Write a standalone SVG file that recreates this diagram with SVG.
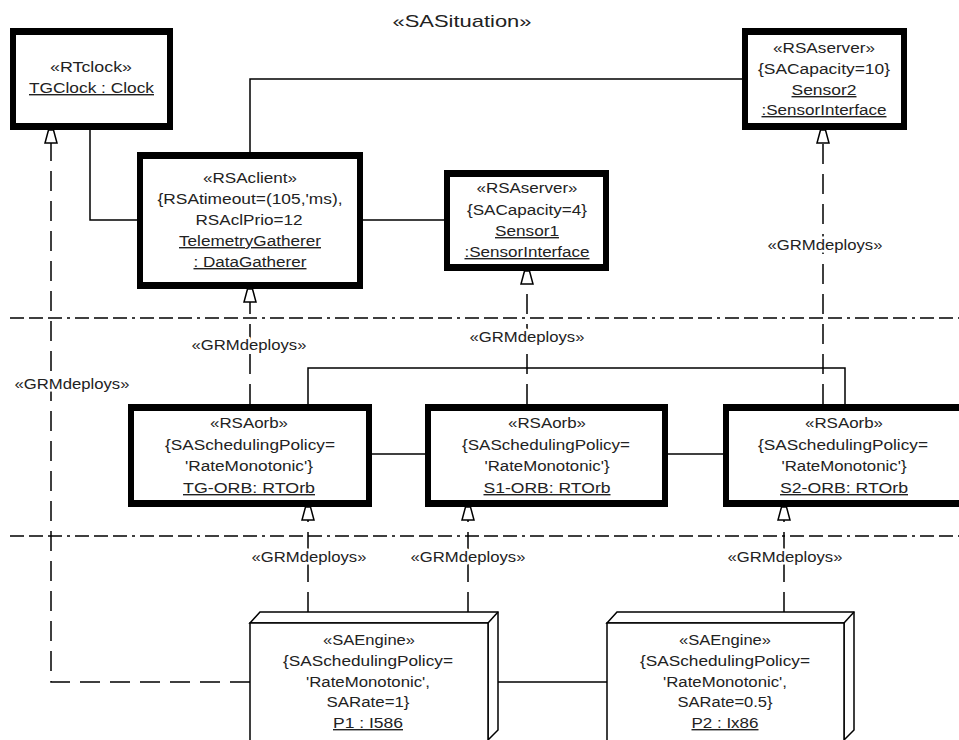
<svg xmlns="http://www.w3.org/2000/svg" width="959" height="740" viewBox="0 0 959 740">
<style>
  text { font-family: "Liberation Sans", Arial, sans-serif; font-size: 14px; fill: #222; text-anchor: middle; }
  .title { font-size: 17px; }
  .u { text-decoration: underline; }
  .lbl { stroke: #fff; stroke-width: 5px; paint-order: stroke; stroke-linejoin: round; }
  .outer { fill: #000; }
  .inner { fill: #fff; }
  .line { fill: none; stroke: #000; stroke-width: 1.5; }
  .dep { fill: none; stroke: #000; stroke-width: 1.5; stroke-dasharray: 20 10; marker-end: url(#tri); }
  .sep { fill: none; stroke: #000; stroke-width: 1.5; stroke-dasharray: 14 5 14 5 14 5 3 5; }
  .node3d { fill: #fff; stroke: #000; stroke-width: 1.5; stroke-linejoin: miter; }
</style>
<defs>
  <marker id="tri" markerUnits="userSpaceOnUse" viewBox="-15 -8 17 16" refX="0" refY="0" markerWidth="17" markerHeight="16" orient="auto">
    <path d="M0,-2.5 L0,2.5 L-13,6 L-13,-6 Z" fill="#fff" stroke="#000" stroke-width="1.5" stroke-dasharray="none"/>
  </marker>
</defs>
<rect width="959" height="740" fill="#fff"/>

<text class="title" x="462" y="27" textLength="139" lengthAdjust="spacingAndGlyphs">«SASituation»</text>

<g id="separators">
  <path class="sep" d="M10,318 H959"/>
  <path class="sep" d="M10,536 H959"/>
</g>

<g id="connectors">
  <path class="line" d="M90,130 V220 H137"/>
  <path class="line" d="M250,152 V79 H742"/>
  <path class="line" d="M363,220 H444"/>
  <path class="line" d="M372,454 H425"/>
  <path class="line" d="M668,454 H723"/>
  <path class="line" d="M308,404 V368 H845 V404"/>
  <path class="line" d="M488,682 H607"/>
  <path class="dep" d="M250,682 H51 V130"/>
  <path class="dep" d="M250,404 V289"/>
  <path class="dep" d="M527,404 V271"/>
  <path class="dep" d="M823,404 V130"/>
  <path class="dep" d="M308,612 V507"/>
  <path class="dep" d="M468,612 V507"/>
  <path class="dep" d="M784,612 V507"/>
  <text class="lbl" x="825" y="250" textLength="115" lengthAdjust="spacingAndGlyphs">«GRMdeploys»</text>
  <text class="lbl" x="249" y="350" textLength="115" lengthAdjust="spacingAndGlyphs">«GRMdeploys»</text>
  <text class="lbl" x="527" y="342" textLength="115" lengthAdjust="spacingAndGlyphs">«GRMdeploys»</text>
  <text class="lbl" x="72" y="389" textLength="115" lengthAdjust="spacingAndGlyphs">«GRMdeploys»</text>
  <text class="lbl" x="309" y="562" textLength="115" lengthAdjust="spacingAndGlyphs">«GRMdeploys»</text>
  <text class="lbl" x="468" y="562" textLength="115" lengthAdjust="spacingAndGlyphs">«GRMdeploys»</text>
  <text class="lbl" x="785" y="562" textLength="115" lengthAdjust="spacingAndGlyphs">«GRMdeploys»</text>
</g>

<g id="TGClock">
  <rect class="outer" x="10" y="28" width="163" height="102"/>
  <rect class="inner" x="16" y="35" width="151" height="88"/>
  <text x="91" y="72" textLength="82" lengthAdjust="spacingAndGlyphs">«RTclock»</text>
  <text class="u" x="91.5" y="93" textLength="125" lengthAdjust="spacingAndGlyphs">TGClock : Clock</text>
</g>

<g id="TelemetryGatherer">
  <rect class="outer" x="137" y="152" width="226" height="137"/>
  <rect class="inner" x="143" y="159" width="214" height="123"/>
  <text x="250" y="183" textLength="94" lengthAdjust="spacingAndGlyphs">«RSAclient»</text>
  <text x="250" y="204" textLength="185" lengthAdjust="spacingAndGlyphs">{RSAtimeout=(105,'ms),</text>
  <text x="249" y="225" textLength="107" lengthAdjust="spacingAndGlyphs">RSAclPrio=12</text>
  <text class="u" x="250" y="246" textLength="142" lengthAdjust="spacingAndGlyphs">TelemetryGatherer</text>
  <text class="u" x="250" y="267" textLength="113" lengthAdjust="spacingAndGlyphs">: DataGatherer</text>
</g>

<g id="Sensor1">
  <rect class="outer" x="444" y="170" width="165" height="101"/>
  <rect class="inner" x="450" y="177" width="153" height="87"/>
  <text x="527" y="193" textLength="101" lengthAdjust="spacingAndGlyphs">«RSAserver»</text>
  <text x="527" y="215" textLength="120" lengthAdjust="spacingAndGlyphs">{SACapacity=4}</text>
  <text class="u" x="527" y="236" textLength="64" lengthAdjust="spacingAndGlyphs">Sensor1</text>
  <text class="u" x="527" y="257" textLength="125" lengthAdjust="spacingAndGlyphs">:SensorInterface</text>
</g>

<g id="Sensor2">
  <rect class="outer" x="742" y="28" width="165" height="102"/>
  <rect class="inner" x="748" y="35" width="153" height="88"/>
  <text x="824" y="53" textLength="102" lengthAdjust="spacingAndGlyphs">«RSAserver»</text>
  <text x="824" y="74" textLength="132" lengthAdjust="spacingAndGlyphs">{SACapacity=10}</text>
  <text class="u" x="824" y="95" textLength="65" lengthAdjust="spacingAndGlyphs">Sensor2</text>
  <text class="u" x="824" y="115" textLength="125" lengthAdjust="spacingAndGlyphs">:SensorInterface</text>
</g>

<g id="TG-ORB">
  <rect class="outer" x="128" y="404" width="244" height="103"/>
  <rect class="inner" x="134" y="411" width="232" height="89"/>
  <text x="249" y="428" textLength="78" lengthAdjust="spacingAndGlyphs">«RSAorb»</text>
  <text x="250" y="450" textLength="170" lengthAdjust="spacingAndGlyphs">{SASchedulingPolicy=</text>
  <text x="249" y="471" textLength="128" lengthAdjust="spacingAndGlyphs">'RateMonotonic'}</text>
  <text class="u" x="249" y="493" textLength="132" lengthAdjust="spacingAndGlyphs">TG-ORB: RTOrb</text>
</g>

<g id="S1-ORB">
  <rect class="outer" x="425" y="404" width="243" height="103"/>
  <rect class="inner" x="431" y="411" width="231" height="89"/>
  <text x="547" y="428" textLength="78" lengthAdjust="spacingAndGlyphs">«RSAorb»</text>
  <text x="546" y="450" textLength="168" lengthAdjust="spacingAndGlyphs">{SASchedulingPolicy=</text>
  <text x="547" y="471" textLength="125" lengthAdjust="spacingAndGlyphs">'RateMonotonic'}</text>
  <text class="u" x="547" y="493" textLength="127" lengthAdjust="spacingAndGlyphs">S1-ORB: RTOrb</text>
</g>

<g id="S2-ORB">
  <rect class="outer" x="723" y="404" width="252" height="103"/>
  <rect class="inner" x="729" y="411" width="240" height="89"/>
  <text x="844" y="428" textLength="78" lengthAdjust="spacingAndGlyphs">«RSAorb»</text>
  <text x="843" y="450" textLength="170" lengthAdjust="spacingAndGlyphs">{SASchedulingPolicy=</text>
  <text x="844" y="471" textLength="125" lengthAdjust="spacingAndGlyphs">'RateMonotonic'}</text>
  <text class="u" x="844" y="493" textLength="128" lengthAdjust="spacingAndGlyphs">S2-ORB: RTOrb</text>
</g>

<g id="P1">
  <path class="node3d" d="M250,623 L260,612 H498 V730 L488,740 V623 Z"/>
  <path class="node3d" d="M488,623 L498,612"/>
  <rect class="node3d" x="250" y="623" width="238" height="130"/>
  <text x="369" y="645" textLength="92" lengthAdjust="spacingAndGlyphs">«SAEngine»</text>
  <text x="368" y="666" textLength="170" lengthAdjust="spacingAndGlyphs">{SASchedulingPolicy=</text>
  <text x="368" y="687" textLength="124" lengthAdjust="spacingAndGlyphs">'RateMonotonic',</text>
  <text x="368" y="707" textLength="83" lengthAdjust="spacingAndGlyphs">SARate=1}</text>
  <text class="u" x="368" y="728" textLength="70" lengthAdjust="spacingAndGlyphs">P1 : I586</text>
</g>

<g id="P2">
  <path class="node3d" d="M607,623 L617,612 H854 V730 L844,740 V623 Z"/>
  <path class="node3d" d="M844,623 L854,612"/>
  <rect class="node3d" x="607" y="623" width="237" height="130"/>
  <text x="725" y="645" textLength="92" lengthAdjust="spacingAndGlyphs">«SAEngine»</text>
  <text x="725" y="666" textLength="170" lengthAdjust="spacingAndGlyphs">{SASchedulingPolicy=</text>
  <text x="725" y="687" textLength="124" lengthAdjust="spacingAndGlyphs">'RateMonotonic',</text>
  <text x="725" y="707" textLength="95" lengthAdjust="spacingAndGlyphs">SARate=0.5}</text>
  <text class="u" x="725" y="728" textLength="67" lengthAdjust="spacingAndGlyphs">P2 : Ix86</text>
</g>
</svg>
